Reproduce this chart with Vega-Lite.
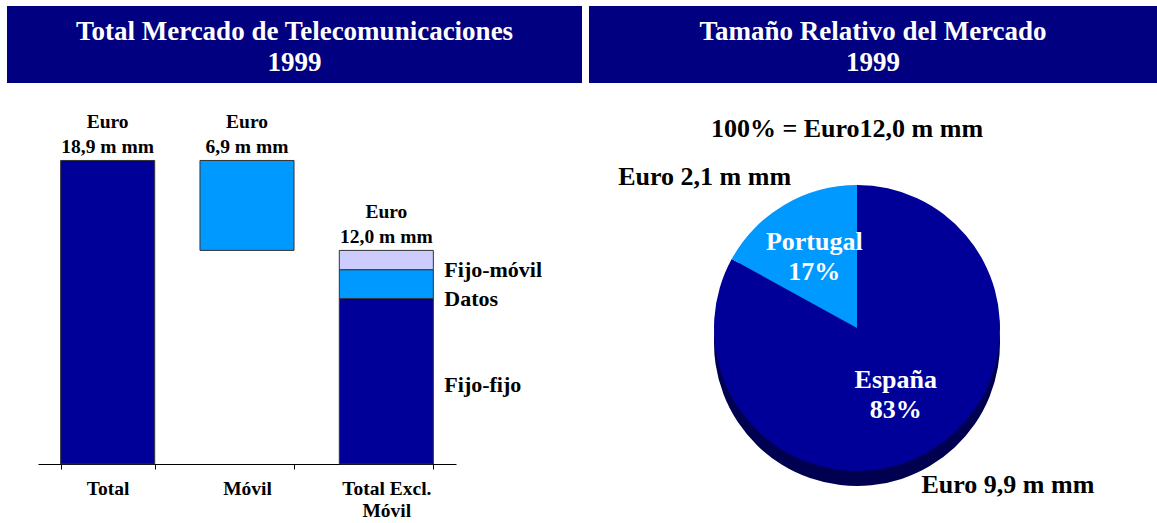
{
  "$schema": "https://vega.github.io/schema/vega-lite/v6.json",
  "padding": {"left": 7, "top": 6, "right": 0, "bottom": 0},
  "background": "white",
  "config": {"font": "Liberation Serif", "view": {"stroke": null}},
  "datasets": {
    "headers": [
      {"panel": "left", "title": "Total Mercado de Telecomunicaciones\n1999"},
      {"panel": "right", "title": "Tamaño Relativo del Mercado\n1999"}
    ],
    "bars": [
      {"category": "Total", "segment": "Total", "start": 0, "end": 18.9},
      {"category": "Móvil", "segment": "Móvil", "start": 13.3, "end": 18.9},
      {"category": "Total Excl. Móvil", "segment": "Fijo-fijo", "start": 0, "end": 10.3},
      {"category": "Total Excl. Móvil", "segment": "Datos", "start": 10.3, "end": 12.1},
      {"category": "Total Excl. Móvil", "segment": "Fijo-móvil", "start": 12.1, "end": 13.3}
    ],
    "barLabels": [
      {"category": "Total", "top": 18.9, "label": "Euro\n18,9 m mm"},
      {"category": "Móvil", "top": 18.9, "label": "Euro\n6,9 m mm"},
      {"category": "Total Excl. Móvil", "top": 13.3, "label": "Euro\n12,0 m mm"}
    ],
    "pie": [
      {"country": "España", "share": 83, "label": "España\n83%", "amount": "Euro 9,9 m mm"},
      {"country": "Portugal", "share": 17, "label": "Portugal\n17%", "amount": "Euro 2,1 m mm"}
    ]
  },
  "spacing": 7,
  "hconcat": [
    {
      "spacing": 10,
      "vconcat": [
        {
          "data": {"name": "headers"},
          "transform": [{"filter": "datum.panel == 'left'"}],
          "width": 575,
          "height": 77,
          "view": {"fill": "#000080", "stroke": null},
          "mark": {"type": "text", "color": "white", "fontSize": 27, "fontWeight": "bold", "lineBreak": "\n", "lineHeight": 31, "baseline": "alphabetic", "align": "center", "dy": -5},
          "encoding": {"text": {"field": "title"}}
        },
        {
          "width": 575,
          "height": 371,
          "layer": [
            {
              "data": {"name": "bars"},
              "mark": {"type": "bar", "stroke": "#333333", "strokeWidth": 1},
              "encoding": {
                "x": {
                  "field": "category", "type": "nominal",
                  "sort": ["Total", "Móvil", "Total Excl. Móvil"],
                  "scale": {"range": [31, 449], "paddingInner": 0.325, "paddingOuter": 0.1625},
                  "axis": {
                    "title": null, "labelAngle": 0, "labelFontSize": 19.5, "labelFontWeight": "bold",
                    "labelColor": "black", "labelFont": "Liberation Serif", "domainColor": "black",
                    "tickColor": "black", "tickSize": 5, "tickBand": "extent", "labelPadding": 10,
                    "labelLineHeight": 22, "labelOverlap": false, "labelLimit": 300,
                    "labelExpr": "datum.label == 'Total Excl. Móvil' ? ['Total Excl.', 'Móvil'] : datum.label"
                  }
                },
                "y": {
                  "field": "start", "type": "quantitative",
                  "scale": {"domain": [0, 23.1], "nice": false},
                  "axis": null
                },
                "y2": {"field": "end"},
                "color": {
                  "field": "segment", "type": "nominal",
                  "scale": {"domain": ["Total", "Móvil", "Fijo-fijo", "Datos", "Fijo-móvil"], "range": ["#000099", "#0099FF", "#000099", "#0099FF", "#CCCCFF"]},
                  "legend": null
                }
              }
            },
            {
              "data": {"name": "barLabels"},
              "mark": {"type": "text", "baseline": "alphabetic", "dy": -32, "fontSize": 19.5, "fontWeight": "bold", "lineBreak": "\n", "lineHeight": 25, "color": "black"},
              "encoding": {
                "x": {"field": "category", "type": "nominal", "sort": ["Total", "Móvil", "Total Excl. Móvil"]},
                "y": {"field": "top", "type": "quantitative"},
                "text": {"field": "label"}
              }
            },
            {
              "data": {"name": "bars"},
              "transform": [{"filter": "datum.segment == 'Fijo-móvil' || datum.segment == 'Datos'"}],
              "mark": {"type": "text", "align": "left", "baseline": "alphabetic", "dx": 58, "dy": 7, "fontSize": 22, "fontWeight": "bold", "color": "black"},
              "encoding": {
                "x": {"field": "category", "type": "nominal", "sort": ["Total", "Móvil", "Total Excl. Móvil"]},
                "y": {"field": "start", "type": "quantitative"},
                "text": {"field": "segment"}
              }
            },
            {
              "data": {"name": "bars"},
              "transform": [{"filter": "datum.segment == 'Fijo-fijo'"}],
              "mark": {"type": "text", "align": "left", "baseline": "alphabetic", "dx": 58, "dy": -72, "fontSize": 22, "fontWeight": "bold", "color": "black"},
              "encoding": {
                "x": {"field": "category", "type": "nominal", "sort": ["Total", "Móvil", "Total Excl. Móvil"]},
                "y": {"field": "start", "type": "quantitative"},
                "text": {"field": "segment"}
              }
            }
          ]
        }
      ]
    },
    {
      "spacing": 70,
      "bounds": "flush",
      "vconcat": [
        {
          "data": {"name": "headers"},
          "transform": [{"filter": "datum.panel == 'right'"}],
          "width": 568,
          "height": 77,
          "view": {"fill": "#000080", "stroke": null},
          "mark": {"type": "text", "color": "white", "fontSize": 27, "fontWeight": "bold", "lineBreak": "\n", "lineHeight": 31, "baseline": "alphabetic", "align": "center", "dy": -5},
          "encoding": {"text": {"field": "title"}}
        },
        {
          "data": {"name": "pie"},
          "width": 536,
          "height": 350,
          "title": {"text": "100% = Euro12,0 m mm", "fontSize": 26, "fontWeight": "bold", "font": "Liberation Serif", "color": "black", "offset": 9, "dx": -10, "dy": 43, "anchor": "middle"},
          "encoding": {
            "theta": {"field": "share", "type": "quantitative", "stack": true},
            "order": {"field": "country", "sort": "ascending"},
            "color": {"field": "country", "type": "nominal", "scale": {"domain": ["España", "Portugal"], "range": ["#000099", "#0099FF"]}, "legend": null}
          },
          "layer": [
            {
              "mark": {"type": "arc", "radius": 143, "yOffset": 15},
              "encoding": {"color": {"value": "#000050"}, "detail": {"field": "country"}}
            },
            {
              "mark": {"type": "arc", "radius": 143}
            },
            {
              "mark": {"type": "text", "radius": 80, "dx": -2, "dy": -9, "fontSize": 26, "fontWeight": "bold", "lineBreak": "\n", "lineHeight": 30, "baseline": "alphabetic", "align": "center"},
              "encoding": {"color": {"value": "white"}, "detail": {"field": "country"}, "text": {"field": "label"}}
            },
            {
              "mark": {"type": "text", "radius": 207, "dx": -47, "dy": 27, "fontSize": 26, "fontWeight": "bold", "baseline": "middle", "align": "center"},
              "encoding": {
                "color": {"value": "black"},
                "detail": {"field": "country"},
                "text": {"condition": {"test": "datum.country == 'Portugal'", "field": "amount"}, "value": ""}
              }
            },
            {
              "mark": {"type": "text", "radius": 212, "dx": 43, "dy": -25, "fontSize": 26, "fontWeight": "bold", "baseline": "middle", "align": "center"},
              "encoding": {
                "color": {"value": "black"},
                "detail": {"field": "country"},
                "text": {"condition": {"test": "datum.country == 'España'", "field": "amount"}, "value": ""}
              }
            }
          ]
        }
      ]
    }
  ]
}
